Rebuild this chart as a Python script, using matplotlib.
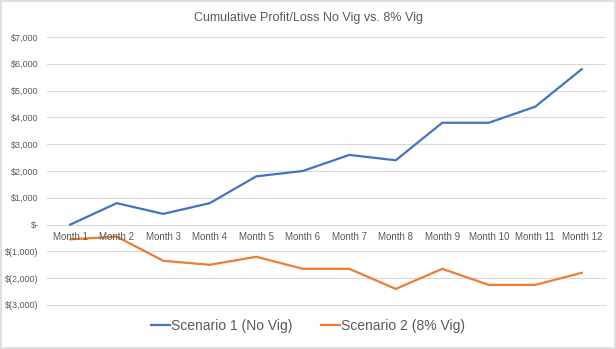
import matplotlib
matplotlib.use("Agg")
import matplotlib.pyplot as plt
from matplotlib.ticker import FuncFormatter

# data
months = ["Month 1", "Month 2", "Month 3", "Month 4", "Month 5", "Month 6",
          "Month 7", "Month 8", "Month 9", "Month 10", "Month 11", "Month 12"]
no_vig = [0, 800, 400, 800, 1800, 2000, 2600, 2400, 3800, 3800, 4400, 5800]
vig_8 = [-550, -450, -1350, -1500, -1200, -1650, -1650, -2400, -1650, -2250, -2250, -1800]
yticks = [-3000, -2000, -1000, 0, 1000, 2000, 3000, 4000, 5000, 6000, 7000]

plt.rcParams["font.family"] = ["Liberation Sans", "DejaVu Sans"]
text_col = "#595959"

fig = plt.figure(figsize=(6.16, 3.49), dpi=100)
ax = fig.add_axes([47 / 616, 1 - 305 / 349, (605 - 47) / 616, (305 - 37) / 349])

x = list(range(len(months)))
ax.plot(x, no_vig, color="#4472C4", lw=1.6, label="Scenario 1 (No Vig)")
ax.plot(x, vig_8, color="#ED7D31", lw=1.6, label="Scenario 2 (8% Vig)")

ax.set_xlim(-0.5, len(months) - 0.5)
ax.set_ylim(-3000, 7000)
ax.set_yticks(yticks)


def money(v, pos):
    if v == 0:
        return "$-"
    if v < 0:
        return "$({:,.0f})".format(-v)
    return "${:,.0f}".format(v)


ax.yaxis.set_major_formatter(FuncFormatter(money))
ax.grid(axis="y", color="#D9D9D9", lw=0.8)
for g in ax.get_ygridlines():
    g.set_clip_on(False)
ax.set_axisbelow(True)
ax.set_xticks([])
for s in ax.spines.values():
    s.set_visible(False)
ax.tick_params(axis="y", length=0, labelsize=6.5, labelcolor=text_col, pad=6)

# category labels sit just under the zero line, like Excel
for i, m in enumerate(months):
    ax.text(i, -280, m, ha="center", va="top", fontsize=7, color=text_col)

fig.suptitle("Cumulative Profit/Loss No Vig vs. 8% Vig", y=1 - 18 / 349,
             va="center", fontsize=9, color=text_col)

fig.legend(loc="center", bbox_to_anchor=(0.5, 1 - 326 / 349), ncol=2, frameon=False,
           fontsize=10, labelcolor=text_col, handlelength=1.4, columnspacing=2.0,
           handletextpad=0.1)

# light frame around the chart
fig.patches.append(plt.Rectangle((0.002, 0.003), 0.996, 0.994, transform=fig.transFigure,
                                 fill=False, ec="#D9D9D9", lw=1.2))

fig.savefig("out.png", dpi=100)
